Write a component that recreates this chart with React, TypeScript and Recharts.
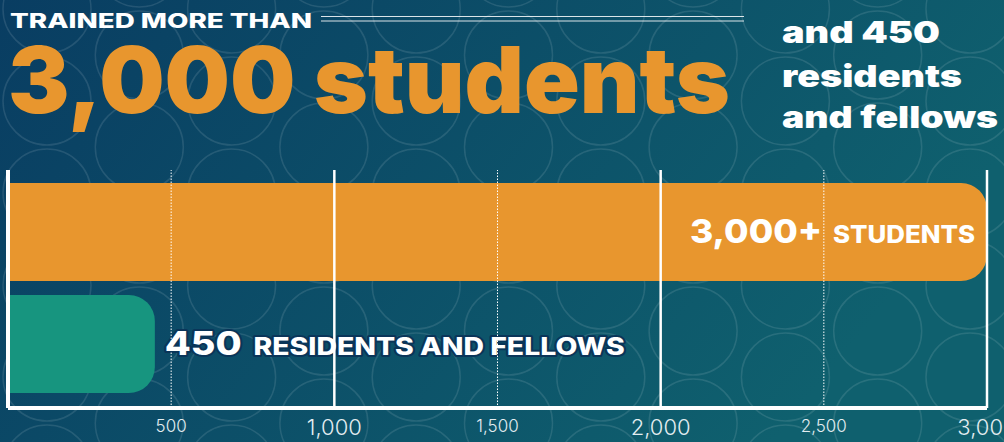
import React from "react";
import { Bar, BarChart, Cell, LabelList, ReferenceLine, XAxis, YAxis } from "recharts";

const categories = ["students", "residents"];
const values = [3000, 450];
const barColors = ["#E8962E", "#17957F"];
const labelNumbers = ["3,000+", "450"];
const labelWords = ["STUDENTS", "RESIDENTS AND FELLOWS"];
const majorTicks = [1000, 2000, 3000];
const minorTicks = [500, 1500, 2500];
const allTicks = [500, 1000, 1500, 2000, 2500, 3000];

const W = 1004;
const H = 442;
const FONT = "Inter, 'Open Sans', sans-serif";
const MARGIN = { top: 170, right: 17, bottom: 4, left: 8 };

const data = categories.map((name, i) => ({ name, value: values[i] }));

function Backdrop() {
  // decorative ring pattern behind the chart
  const rings: React.ReactNode[] = [];
  for (let c = -1; c < 13; c++) {
    const cx = 47 + c * 92.3;
    const y0 = c % 2 === 0 ? 101 : 147;
    for (let r = -3; r < 5; r++) {
      rings.push(
        <circle key={`${c}-${r}`} cx={cx} cy={y0 + r * 92} r={44} fill="none" stroke="rgba(255,255,255,0.11)" strokeWidth={1.5} />
      );
    }
  }
  return (
    <svg width={W} height={H} style={{ position: "absolute", left: 0, top: 0 }}>
      <defs>
        <linearGradient id="bg" x1="0" y1="0" x2="1" y2="0.35">
          <stop offset="0%" stopColor="#093d62" />
          <stop offset="100%" stopColor="#0f606e" />
        </linearGradient>
      </defs>
      <rect width={W} height={H} fill="url(#bg)" />
      {rings}
    </svg>
  );
}

function Headline() {
  return (
    <svg width={W} height={H} style={{ position: "absolute", left: 0, top: 0, pointerEvents: "none" }}>
      <text x={10} y={28} fontFamily={FONT} fontWeight={800} fontSize={20} fill="#fff" textLength={302} lengthAdjust="spacingAndGlyphs">
        TRAINED MORE THAN
      </text>
      <line x1={321} x2={744} y1={16.5} y2={16.5} stroke="rgba(255,255,255,0.85)" strokeWidth={1} />
      <line x1={321} x2={744} y1={21} y2={21} stroke="rgba(255,255,255,0.85)" strokeWidth={1} />
      <text x={8} y={113} fontFamily={FONT} fontWeight={900} fontSize={92} fill="#E8962E" textLength={722} lengthAdjust="spacingAndGlyphs">
        3,000 students
      </text>
      <g fontFamily={FONT} fontWeight={900} fontSize={30} fill="#fff">
        <text x={782} y={43} textLength={158} lengthAdjust="spacingAndGlyphs">and 450</text>
        <text x={782} y={87} textLength={180} lengthAdjust="spacingAndGlyphs">residents</text>
        <text x={782} y={128} textLength={216} lengthAdjust="spacingAndGlyphs">and fellows</text>
      </g>
    </svg>
  );
}

function AxisTick(props: any) {
  const { x, payload } = props;
  const major = majorTicks.includes(payload.value);
  return (
    <text
      x={x}
      y={major ? 435 : 432}
      textAnchor="middle"
      fontFamily={FONT}
      fontWeight={300}
      fontSize={major ? 22 : 17}
      fill="#e3edf1"
    >
      {payload.value.toLocaleString("en-US")}
    </text>
  );
}

function BarLabel(props: any) {
  const { x, y, width, height, index } = props;
  const cy = y + height / 2;
  if (index === 0) {
    return (
      <text
        x={x + width - 12}
        y={cy + 11}
        textAnchor="end"
        fontFamily={FONT}
        fontWeight={800}
        fill="#fff"
        textLength={285}
        lengthAdjust="spacingAndGlyphs"
      >
        <tspan fontSize={33}>{labelNumbers[index]}</tspan>
        <tspan fontSize={24} dx={10}>{labelWords[index]}</tspan>
      </text>
    );
  }
  return (
    <text
      x={x + width + 10}
      y={cy + 11}
      fontFamily={FONT}
      fontWeight={800}
      fill="#fff"
      stroke="#0a3559"
      strokeWidth={4}
      strokeLinejoin="round"
      paintOrder="stroke"
      textLength={460}
      lengthAdjust="spacingAndGlyphs"
    >
      <tspan fontSize={32}>{labelNumbers[index]}</tspan>
      <tspan fontSize={24} dx={10}>{labelWords[index]}</tspan>
    </text>
  );
}

export default function App() {
  return (
    <div style={{ position: "absolute", left: 0, top: 0, width: W, height: H, overflow: "hidden" }}>
      <Backdrop />
      <Headline />
      <div style={{ position: "absolute", left: 0, top: 0 }}>
        <BarChart layout="vertical" width={W} height={H} data={data} margin={MARGIN}>
          <XAxis
            type="number"
            domain={[0, 3000]}
            ticks={allTicks}
            height={30}
            axisLine={{ stroke: "#fff", strokeWidth: 4 }}
            tickLine={false}
            tick={<AxisTick />}
            interval={0}
          />
          <YAxis type="category" dataKey="name" width={0} padding={{ top: 6, bottom: 8 }} hide />
          <Bar dataKey="value" barSize={98} radius={[0, 26, 26, 0]} isAnimationActive={false}>
            {data.map((d, i) => (
              <Cell key={d.name} fill={barColors[i]} />
            ))}
            <LabelList dataKey="value" content={<BarLabel />} />
          </Bar>
        </BarChart>
      </div>
      {/* grid lines sit on top of the bars, so they get their own layer */}
      <div style={{ position: "absolute", left: 0, top: 0, pointerEvents: "none" }}>
        <BarChart
          layout="vertical"
          width={W}
          height={H}
          data={data}
          margin={{ ...MARGIN, bottom: MARGIN.bottom + 30 }}
        >
          <XAxis type="number" domain={[0, 3000]} hide />
          <YAxis type="category" dataKey="name" hide />
          <Bar dataKey="value" fill="transparent" isAnimationActive={false} />
          <ReferenceLine x={0} stroke="#fff" strokeWidth={4} />
          {minorTicks.map((t) => (
            <ReferenceLine key={`m${t}`} x={t} stroke="#fff" strokeWidth={1} strokeDasharray="1.5 1.5" />
          ))}
          {majorTicks.map((t) => (
            <ReferenceLine key={`M${t}`} x={t} stroke="#fff" strokeWidth={2.5} />
          ))}
        </BarChart>
      </div>
    </div>
  );
}
